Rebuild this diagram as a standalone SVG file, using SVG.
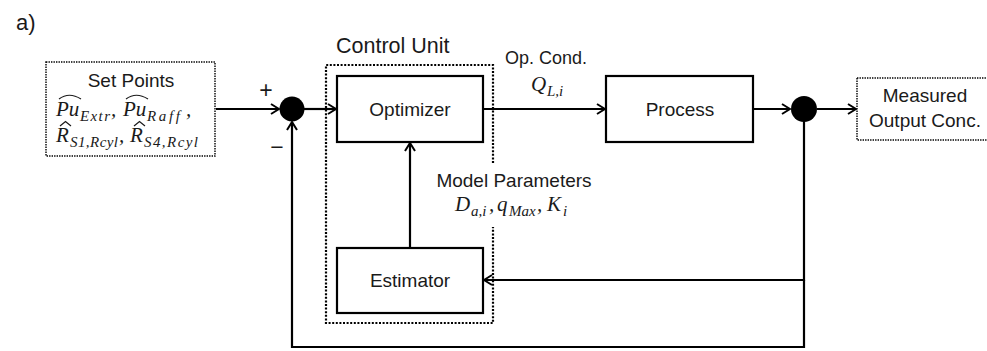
<svg xmlns="http://www.w3.org/2000/svg" width="987" height="351" viewBox="0 0 987 351">
<defs>
<style>
.lbl{font-family:"Liberation Sans",Arial,sans-serif;font-size:19px;fill:#1a1a1a}
.m{font-family:"Liberation Serif","Times New Roman",serif;font-style:italic;font-size:21px;fill:#1a1a1a}
.s{font-family:"Liberation Serif","Times New Roman",serif;font-style:italic;font-size:15px;fill:#1a1a1a}
.box{fill:#fff;stroke:#000;stroke-width:2.2}
.dot{fill:#fff;stroke:#000;stroke-width:1.4;stroke-dasharray:1.4 1.1}
.cu{fill:none;stroke:#000;stroke-width:2.2;stroke-dasharray:2 1.6}
.ln{fill:none;stroke:#000;stroke-width:2.2}
.hat{fill:none;stroke:#1a1a1a;stroke-width:1.2}
</style>
<marker id="ah" viewBox="0 0 10 12" refX="9" refY="6" markerWidth="10" markerHeight="12" markerUnits="userSpaceOnUse" orient="auto">
<path d="M1,1 L9,6 L1,11" fill="none" stroke="#000" stroke-width="2"/>
</marker>
</defs>
<rect width="987" height="351" fill="#fff"/>
<text x="16" y="30" class="lbl" style="font-size:22px">a)</text>

<g id="connectors">
<path class="ln" d="M216,109 H279" marker-end="url(#ah)"/>
<path class="ln" d="M304,109 H336" marker-end="url(#ah)"/>
<path class="ln" d="M483,109 H605" marker-end="url(#ah)"/>
<path class="ln" d="M753,109 H790" marker-end="url(#ah)"/>
<path class="ln" d="M817,109 H856" marker-end="url(#ah)"/>
<path class="ln" d="M804,121 V280 H484" marker-end="url(#ah)"/>
<path class="ln" d="M804,280 V347 H292 V122" marker-end="url(#ah)"/>
<path class="ln" d="M410,248 V143" marker-end="url(#ah)"/>
</g>

<g id="control-unit">
<path class="cu" d="M493,163 V65 H326 V323 H493 V227"/>
<text x="336" y="53" class="lbl" style="font-size:21.5px">Control Unit</text>
</g>

<g id="set-points">
<rect class="dot" x="46" y="62" width="169" height="94"/>
<text x="131" y="87" class="lbl" text-anchor="middle">Set Points</text>
<text class="m" y="116" x="56">Pu</text>
<text class="s" y="121" x="80" textLength="30">Extr</text>
<text class="m" y="116" x="111">,</text>
<text class="m" y="116" x="123">Pu</text>
<text class="s" y="121" x="147" textLength="33">Raff</text>
<text class="m" y="116" x="186">,</text>
<path class="hat" d="M59,99 Q69,91.5 81,99"/>
<path class="hat" d="M126,99 Q136,91.5 148,99"/>
<text class="m" y="142" x="56">R</text>
<text class="s" y="147" x="70" textLength="48">S1,Rcyl</text>
<text class="m" y="142" x="119">,</text>
<text class="m" y="142" x="130">R</text>
<text class="s" y="147" x="144" textLength="54">S4,Rcyl</text>
<path class="hat" d="M60,126 L65.5,121.5 L71,126"/>
<path class="hat" d="M134,126 L139.5,121.5 L145,126"/>
</g>

<g id="sum-junction">
<circle cx="292" cy="109" r="12.5" fill="#000"/>
<text x="266" y="98" class="lbl" style="font-size:23px" text-anchor="middle">+</text>
<text x="277" y="155" class="lbl" style="font-size:23px" text-anchor="middle">−</text>
</g>

<g id="optimizer">
<rect class="box" x="337" y="76" width="146" height="66"/>
<text x="410" y="116" class="lbl" text-anchor="middle">Optimizer</text>
</g>

<g id="op-cond">
<text x="546" y="64" class="lbl" style="font-size:18px" text-anchor="middle">Op. Cond.</text>
<text class="m" x="531" y="91">Q</text>
<text class="s" x="547" y="96">L,i</text>
</g>

<g id="process">
<rect class="box" x="606" y="76" width="147" height="66"/>
<text x="680" y="116" class="lbl" text-anchor="middle">Process</text>
</g>

<g id="branch">
<circle cx="804" cy="109" r="13" fill="#000"/>
</g>

<g id="measured">
<rect class="dot" x="857" y="78" width="140" height="62"/>
<text x="925" y="102" class="lbl" text-anchor="middle">Measured</text>
<text x="925" y="127" class="lbl" text-anchor="middle">Output Conc.</text>
</g>

<g id="model-params">
<text x="514" y="187" class="lbl" text-anchor="middle">Model Parameters</text>
<text class="m" x="455" y="211">D</text>
<text class="s" x="471" y="216">a,i</text>
<text class="m" x="489" y="211">,</text>
<text class="m" x="497" y="211">q</text>
<text class="s" x="509" y="216">Max</text>
<text class="m" x="537" y="211">,</text>
<text class="m" x="547" y="211">K</text>
<text class="s" x="563" y="216">i</text>
</g>

<g id="estimator">
<rect class="box" x="337" y="248" width="146" height="65"/>
<text x="410" y="287" class="lbl" text-anchor="middle">Estimator</text>
</g>
</svg>
